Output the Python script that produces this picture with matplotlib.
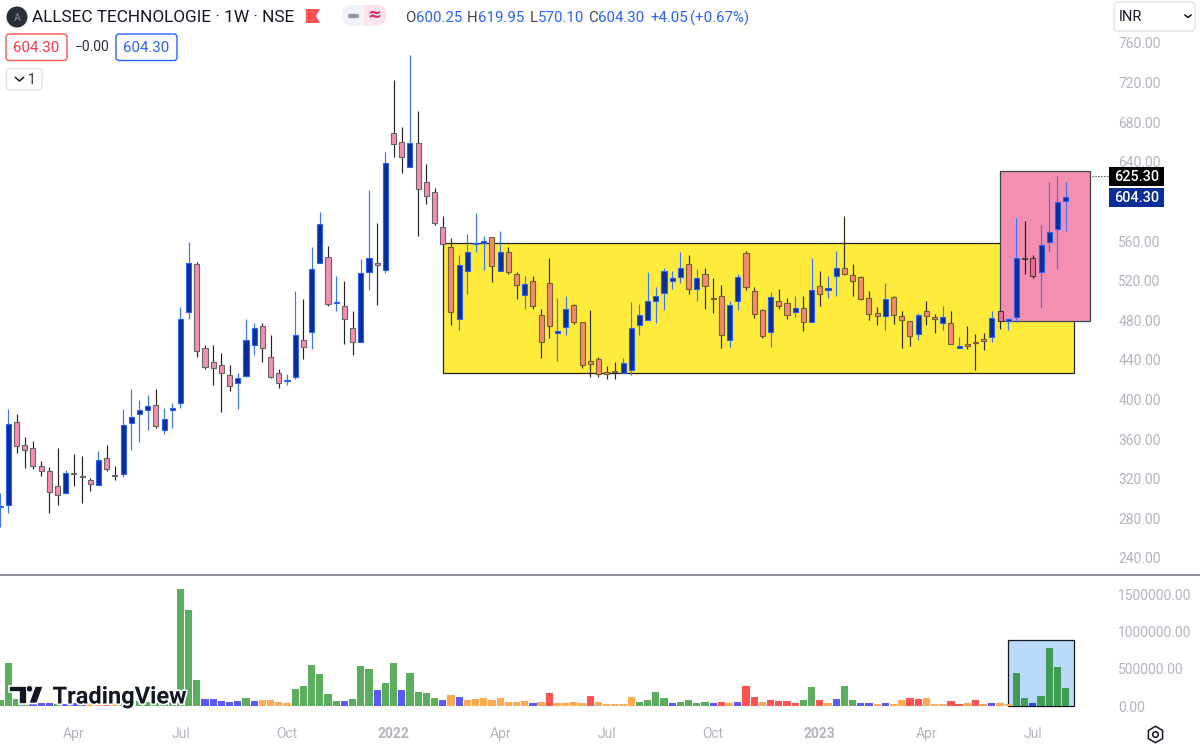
import matplotlib
matplotlib.use('Agg')
import matplotlib.pyplot as plt
import matplotlib.patheffects as pe
from matplotlib.patches import Rectangle, FancyBboxPatch, Polygon, Circle, RegularPolygon

plt.rcParams['font.family'] = ['Roboto', 'DejaVu Sans']

# weekly candles
opens = [291, 293.5, 377, 354.1, 351.4, 332.9, 328.2, 312.7, 305.3, 325.5,
         322.5, 318.4, 314, 341, 323.5, 324.5, 376, 385.1, 389.1, 394.1,
         369.6, 389.6, 396.2, 488.1, 536.5, 452, 438.2, 435.2, 425.1, 416.4,
         424.1, 454.7, 473.9, 443, 427.1, 418.3, 422.8, 460.5, 468.5, 538.2,
         543.6, 497, 494.1, 471.9, 458.4, 529.1, 537.5, 530.8, 669.1, 660,
         634.8, 659, 619.6, 609.5, 574.5, 554.3, 481.6, 530.1, 556.6, 558.2,
         564.4, 530.1, 548.9, 526.4, 505.2, 520, 485.7, 518, 466.8, 473.2,
         495.8, 478.6, 438.5, 440.9, 428.1, 428.8, 426.4, 430.1, 474.9, 480.3,
         499.5, 507.2, 519.7, 523.4, 537.2, 511.6, 527.1, 502.3, 504.9, 460.5,
         499.8, 548.3, 509.6, 490.4, 468.5, 499.5, 497.8, 488.7, 492.1, 478.6,
         514.3, 510.6, 524.4, 532.5, 526.1, 524.1, 502.2, 487.1, 484, 503.9,
         484, 479.6, 465.9, 489.4, 483, 477.6, 477, 452, 456.4, 458.2,
         461.1, 463.2, 489.7, 479, 483, 543, 542.6, 529.1, 559.4, 571.9, 600.25]
highs = [305.3, 390.1, 385.1, 362.5, 358.1, 337.6, 332.2, 350.7, 328.8, 345,
         343.3, 320.4, 348, 354.1, 332.9, 390.1, 410.3, 399.5, 404.6, 410.3,
         391.1, 396.5, 493.1, 558.7, 538.5, 454.7, 455.1, 446.7, 434.9, 426.5,
         481.7, 477, 477, 464.8, 431.2, 425.5, 509.3, 501.9, 553.7, 589.7,
         555, 524.8, 519.4, 489.1, 541.9, 611.6, 578.6, 650.3, 722.6, 674.8,
         747.9, 691.3, 637.5, 613.2, 585.3, 562.7, 545.9, 566.8, 588.7, 564.8,
         564.4, 570.5, 553.6, 528.4, 524.4, 524.4, 491.7, 542.9, 502.8, 504.2,
         496.1, 478.6, 490, 442.9, 433.8, 437.5, 441.6, 498.8, 496.1, 528.4,
         513.3, 532.8, 530.1, 549.3, 546, 531.5, 532.8, 522.4, 515.7, 499.8,
         526.4, 549.7, 513.3, 491.1, 508.9, 512, 502.5, 504.6, 504.6, 542.6,
         529.5, 524.8, 549.7, 585.3, 536.5, 524.4, 510, 493.5, 517.4, 504.2,
         489.7, 479.6, 487.1, 499.2, 486, 494.5, 489.1, 463.2, 474.3, 465.9,
         466.9, 489.7, 490.4, 482.6, 583, 580, 545.6, 576.2, 620, 625.7, 619.95]
lows = [271.6, 285.1, 346.4, 330.9, 330.2, 322.4, 285.8, 293.8, 305.3, 312.4,
        295.9, 308, 313.4, 328.2, 318.8, 321.8, 349, 357.5, 369.2, 371.6,
        365.5, 370.9, 391.1, 481.7, 443.3, 430.5, 415, 387.8, 408.6, 390.1,
        422.4, 445, 438.2, 421.4, 411.6, 415, 420.7, 440.6, 450.7, 538.2,
        494.8, 489.4, 456.4, 445, 458.4, 510.6, 495.8, 527.4, 645.2, 628.4,
        634.8, 565.4, 597.8, 575.9, 556.7, 475.6, 470.2, 506.5, 548.9, 530.4,
        518.7, 530.1, 527.1, 501.1, 491, 491.7, 441.6, 461.8, 439.2, 465.5,
        476.6, 431.5, 423, 422.4, 420.4, 420.7, 426.4, 425.1, 465.5, 480.3,
        477.3, 490.4, 511.9, 517.7, 506.6, 499.5, 491.1, 487.7, 451.7, 453.4,
        490.1, 510.3, 482, 461.8, 452.7, 491.8, 481, 483.7, 469.2, 478.6,
        494.5, 502.9, 504.9, 526.1, 504.6, 500.2, 480.7, 475.3, 470.2, 476.3,
        452.4, 454.4, 459.8, 475.3, 467.2, 469.9, 455.8, 452, 451.4, 429.8,
        449.7, 458.1, 470.9, 469.9, 478.3, 526.8, 522.7, 492.8, 549, 532.1, 570.1]
closes = [292.4, 375.3, 353.1, 349.4, 332.6, 328.2, 306.3, 303.6, 325.5, 324.7,
          321.7, 314.4, 338.6, 330.2, 322.7, 373.9, 382.4, 389.8, 393.1, 372.9,
          380.3, 391.2, 481.3, 538.2, 449.4, 432.5, 431.8, 427.1, 413.3, 421.7,
          460.1, 471.9, 452, 422.4, 417, 420, 465.5, 452.7, 531.5, 577.6,
          496.8, 498.6, 481.3, 458.4, 528.1, 542.8, 535.5, 639.2, 658.4, 644.5,
          659, 612.2, 605.2, 577.9, 556.7, 488, 536.1, 548.9, 558.2, 559.8,
          534.5, 548.9, 528.4, 515.3, 517, 494.1, 458.4, 474.2, 469.5, 491,
          478.6, 434.5, 436.2, 425.4, 425.4, 428, 437.2, 471.9, 485.7, 499.5,
          504.2, 529.8, 522.4, 532.5, 511.3, 522.4, 515, 501.5, 465.5, 495.8,
          523.4, 513.3, 486.7, 464.5, 503.9, 494.1, 485, 492.1, 478.6, 510.6,
          506.9, 512.3, 532.5, 527.1, 519.7, 501.2, 486.7, 484, 501.2, 485,
          480.3, 464.5, 485.7, 484, 481, 483, 455.8, 453.7, 453.7, 457.4,
          459.1, 482, 479, 481.3, 542.6, 542.2, 525.1, 556.4, 569.5, 599.5, 604.3]
# volume in thousands, the first ones sit behind the logo so they are guesses
volumes_k = [80, 581, 100, 60, 30, 35, 40, 25, 30, 45,
             25, 25, 25, 22, 25, 80, 60, 70, 50, 60,
             60, 60, 1564, 1287, 349, 94, 94, 67, 54, 67,
             107, 67, 80, 80, 54, 40, 228, 264, 554, 433,
             165, 67, 67, 94, 540, 496, 214, 308, 581, 214,
             438, 183, 170, 107, 80, 143, 116, 80, 94, 107,
             80, 107, 58, 58, 67, 36, 58, 179, 36, 36,
             49, 36, 134, 58, 22, 22, 22, 121, 58, 80,
             183, 107, 36, 58, 80, 45, 58, 36, 58, 36,
             49, 264, 121, 58, 80, 67, 67, 45, 80, 250,
             80, 45, 94, 264, 80, 45, 45, 22, 45, 31,
             80, 107, 94, 107, 31, 31, 67, 31, 45, 80,
             22, 45, 45, 31, 447, 107, 45, 130, 777, 518, 241]
volume_kinds = ("ggggbbbgbb" "booroggggg" "gggggbbbbb" "gboooogggg" "ggbgggbggb"
                "ggggbobooo" "oooooboroo" "oorooooogg" "ggbggggbro" "brrorrrrgg"
                "robggbbobo" "orrooorror" "obooggbgggg")

# 600 sits behind the last price tag in the reference
price_ticks = [240, 280, 320, 360, 400, 440, 480, 520, 560, 640, 680, 720, 760]
volume_ticks = [0, 500000, 1000000, 1500000]
time_ticks = [9, 22, 35, 48, 61, 74, 87, 100, 113, 126]
time_labels = ['Apr', 'Jul', 'Oct', '2022', 'Apr', 'Jul', 'Oct', '2023', 'Apr', 'Jul']

yellow_zone = (54, 131, 426.5, 558.4)
pink_zone = (122, 133, 479.3, 630.8)
blue_zone = (123, 131, 0, 889000)

W, H = 1200, 748
GREY = '#b2b5be'
fig = plt.figure(figsize=(W / 100, H / 100), dpi=100, facecolor='white')

def px_axes(left, top, right, bottom):
    return fig.add_axes([left / W, 1 - bottom / H, (right - left) / W, (bottom - top) / H])

ax = px_axes(0, 0, 1105, 575)
vol = px_axes(0, 576, 1105, 720)
xmin, xmax = -0.016, 134.8
for a in (ax, vol):
    a.set_xlim(xmin, xmax)
    for s in a.spines.values():
        s.set_visible(False)
    a.yaxis.tick_right()
    a.tick_params(axis='both', length=0, labelcolor=GREY, labelsize=10)
    a.tick_params(axis='y', pad=9.5)
ax.set_ylim(222.8, 803.4)
vol.set_ylim(-187670, 1742650)
ax.set_xticks([])
ax.set_yticks(price_ticks)
ax.set_yticklabels(['%.2f' % p for p in price_ticks])
vol.set_yticks(volume_ticks)
vol.set_yticklabels(['%.2f' % v for v in volume_ticks])
vol.set_xticks(time_ticks)
vol.set_xticklabels(time_labels)
vol.tick_params(axis='x', pad=5)
for lab, name in zip(vol.get_xticklabels(), time_labels):
    if name.isdigit():
        lab.set_fontweight('bold')

# zones
ax.add_patch(Rectangle((yellow_zone[0], yellow_zone[2]), yellow_zone[1] - yellow_zone[0],
                       yellow_zone[3] - yellow_zone[2], fc='#ffeb3b', ec='#222222', lw=0.9, zorder=1))
ax.add_patch(Rectangle((pink_zone[0], pink_zone[2]), pink_zone[1] - pink_zone[0],
                       pink_zone[3] - pink_zone[2], fc='#f48fb1', ec='#37474f', lw=0.9, zorder=1.5))
vol.add_patch(Rectangle((blue_zone[0], blue_zone[2]), blue_zone[1] - blue_zone[0],
                        blue_zone[3] - blue_zone[2], fc='#bbdafa', ec='#131722', lw=0.9, zorder=1))

# candles, colours shift depending on the zone behind them
for i, (o, h, l, c) in enumerate(zip(opens, highs, lows, closes)):
    if c >= o:
        fill, edge, wick = '#0a2e96', '#2962ff', '#3f72ff'
    elif i >= 122:
        fill, edge, wick = '#f06a94', '#4a3a40', '#1c1c1c'
    elif i >= 55:
        fill, edge, wick = '#f58a70', '#73602a', '#2f2c10'
    else:
        fill, edge, wick = '#f48fb1', '#666666', '#222222'
    ax.vlines(i, l, h, color=wick, lw=0.85, zorder=3)
    ax.bar(i, abs(c - o), bottom=min(o, c), width=0.62, color=fill, edgecolor=edge, lw=0.8, zorder=4)

ax.plot([133.2, 135.4], [625.3, 625.3], color='#222222', lw=0.8, ls=':', clip_on=False, zorder=3)

# volume bars
kind_colors = {'g': '#5aae5e', 'b': '#5a5aff', 'o': '#ffa850', 'r': '#ff5252'}
zone_colors = {'g': '#3f9c54', 'b': '#2a44e0', 'o': '#ffa850', 'r': '#ff5252'}
for i, (v, k) in enumerate(zip(volumes_k, volume_kinds)):
    col = zone_colors[k] if i >= 124 else kind_colors[k]
    vol.bar(i, v * 1000, width=0.88, color=col, zorder=2)

# everything that is UI chrome lives on a pixel overlay
ui = fig.add_axes([0, 0, 1, 1], zorder=10)
ui.set_xlim(0, W)
ui.set_ylim(H, 0)
ui.axis('off')
ui.patch.set_alpha(0)

def box(x0, y0, x1, y1, fc='white', ec='none', r=3, lw=1, z=5):
    p = FancyBboxPatch((x0 + r, y0 + r), x1 - x0 - 2 * r, y1 - y0 - 2 * r,
                       boxstyle='round,pad=%g,rounding_size=%g' % (r, r),
                       fc=fc, ec=ec, lw=lw, zorder=z)
    ui.add_patch(p)
    return p

def txt(x, y, s, color='#131722', size=10, ha='left', va='center', **kw):
    return ui.text(x, y, s, color=color, fontsize=size, ha=ha, va=va, zorder=8, **kw)

ui.plot([0, W], [575, 575], color='#787b86', lw=1.2, zorder=5)

# title row
ui.add_patch(Circle((17, 17), 10.5, fc='#2a2e39', ec='none', zorder=5))
txt(17, 17.5, 'A', color='#6d707a', size=7.5, ha='center', fontweight='bold')
txt(32, 17, 'ALLSEC TECHNOLOGIE · 1W · NSE', size=12.4)
ui.add_patch(Polygon([(306, 9), (320, 9), (316, 16), (320, 23), (306, 23)], fc='#ff5252', ec='none', zorder=5))
pill = box(341.5, 5, 386.5, 25.5, fc='#f0f3fa', r=10)
half = Rectangle((364, 5), 23, 21, fc='#fce4ec', ec='none', zorder=6)
ui.add_patch(half)
half.set_clip_path(pill)
ui.plot([350, 357], [16, 16], color='#9598a1', lw=3.2, solid_capstyle='round', zorder=7)
txt(374.5, 15, '≈', color='#e91e63', size=12, ha='center', family=['DejaVu Sans'], fontweight='bold')

for x, s, col in [(405, 'O', '#434651'), (416, '600.25', '#2962ff'),
                  (467, 'H', '#434651'), (478, '619.95', '#2962ff'),
                  (530, 'L', '#434651'), (538, '570.10', '#2962ff'),
                  (588, 'C', '#434651'), (598, '604.30', '#2962ff'),
                  (650, '+4.05', '#2962ff'), (690, '(+0.67%)', '#2962ff')]:
    txt(x, 18, s, color=col, size=10.8)

# price badges
box(6, 34, 67, 60.5, ec='#ff5252')
txt(36.5, 47.5, '604.30', color='#f23645', size=10.8, ha='center')
txt(92, 47, '\u22120.00', color='#2a2e39', size=10, ha='center')
box(116, 34, 177, 60.5, ec='#2962ff')
txt(146.5, 47.5, '604.30', color='#2962ff', size=10.8, ha='center')
box(6.5, 68.5, 42, 90, ec='#e0e3eb')
ui.plot([15.5, 19.5, 23.5], [77.5, 81, 77.5], color='#131722', lw=1.1, zorder=7)
txt(32, 79.5, '1', color='#2a2e39', size=10, ha='center')

# currency dropdown
box(1114, 2, 1195, 31, ec='#e0e3eb', r=4)
txt(1119, 17, 'INR', color='#131722', size=10.5)
ui.plot([1185, 1188, 1191], [15, 17.5, 15], color='#131722', lw=1.1, zorder=7)

# last price tags
ui.add_patch(Rectangle((1109, 167), 55, 19, fc='#000000', ec='none', zorder=6))
txt(1136.5, 176.5, '625.30', color='white', size=10.4, ha='center', fontweight='medium')
ui.add_patch(Rectangle((1109, 188), 55, 19, fc='#0a2e96', ec='none', zorder=6))
txt(1136.5, 197.5, '604.30', color='white', size=10.4, ha='center', fontweight='medium')

# TradingView logo
halo = [pe.withStroke(linewidth=2.5, foreground='white')]
logo = '#131722'
for pts in ([(9, 686), (27, 686), (27, 703.5), (18.5, 703.5), (18.5, 692), (9, 692)],
            [(35, 686), (43.5, 686), (37, 703.5), (28.5, 703.5)]):
    ui.add_patch(Polygon(pts, fc=logo, ec='white', lw=1.2, zorder=7))
ui.add_patch(Circle((29.5, 688.8), 3.2, fc=logo, ec='white', lw=0.6, zorder=7))
txt(52.5, 703.5, 'TradingView', color=logo, size=17, va='baseline', fontweight='bold',
    path_effects=halo)

# settings gear
ui.add_patch(RegularPolygon((1155.5, 734.5), 6, radius=8.2, orientation=0, fc='white', ec='#131722', lw=1.1, zorder=6))
ui.add_patch(Circle((1155.5, 734.5), 2.8, fc='white', ec='#131722', lw=1.1, zorder=7))

fig.savefig('out.png', dpi=100, facecolor='white')
